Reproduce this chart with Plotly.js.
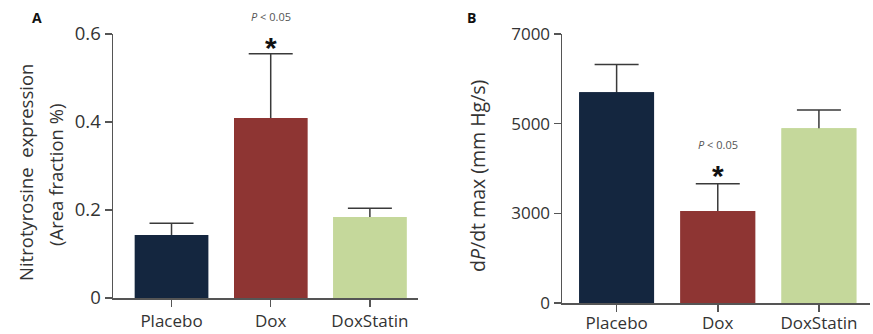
<!DOCTYPE html>
<html>
<head>
<meta charset="utf-8">
<script src="https://cdn.plot.ly/plotly-3.0.1.min.js"></script>
<style>html,body{margin:0;padding:0;background:#fff;}#chart{width:873px;height:334px;}</style>
</head>
<body>
<div id="chart"></div>
<script>
// ---- data ----
const categories = ["Placebo", "Dox", "DoxStatin"];
const colors = ["#14263f", "#8e3533", "#c5d89b"];

const nitroValues = [0.143, 0.409, 0.184];
const nitroErrors = [0.027, 0.146, 0.020];
const nitroTicks = [0, 0.2, 0.4, 0.6];
const nitroTickText = ["0", "0.2", "0.4", "0.6"];

const dpdtValues = [5700, 3050, 4895];
const dpdtErrors = [618, 610, 409];
// the reference axis is drawn with equal steps; bottom tick is labelled 0
const dpdtTicks = [1000, 3000, 5000, 7000];
const dpdtTickText = ["0", "3000", "5000", "7000"];

const FONT = "Open Sans, sans-serif";
const AX = "#555555";
const TXT = "#333333";

// error bars (symmetric; lower half hidden by the bars drawn over them)
function errTrace(vals, errs, xa, ya) {
  return {
    type: "bar", x: categories, y: vals, xaxis: xa, yaxis: ya,
    marker: {color: colors, line: {width: 0}}, width: 0.74,
    error_y: {type: "data", array: errs, symmetric: true,
      color: "#3a3a3a", thickness: 1.5, width: 22},
    hoverinfo: "skip", showlegend: false
  };
}
function barTrace(vals, xa, ya) {
  return {
    type: "bar", x: categories, y: vals, xaxis: xa, yaxis: ya,
    marker: {color: colors, line: {width: 0}}, width: 0.74,
    hoverinfo: "skip", showlegend: false
  };
}

const data = [
  errTrace(nitroValues, nitroErrors, "x", "y"),
  barTrace(nitroValues, "x", "y"),
  errTrace(dpdtValues, dpdtErrors, "x2", "y2"),
  barTrace(dpdtValues, "x2", "y2")
];

function xAxis(domain, range, anchor, standoff) {
  return {domain: domain, range: range, anchor: anchor, type: "category",
    showline: true, linecolor: AX, linewidth: 1.5, ticks: "outside", ticklen: 7,
    tickwidth: 1.5, tickcolor: AX, showgrid: false, zeroline: false,
    ticklabelstandoff: standoff,
    tickfont: {family: FONT, size: 17, color: TXT}, fixedrange: true};
}
function yAxis(domain, range, anchor, tv, tt, fs) {
  return {domain: domain, range: range, anchor: anchor, tickvals: tv, ticktext: tt,
    showline: true, linecolor: AX, linewidth: 1.5, ticks: "outside", ticklen: 7,
    tickwidth: 1.5, tickcolor: AX, showgrid: false, zeroline: false,
    tickfont: {family: FONT, size: fs, color: TXT}, fixedrange: true};
}

const H = 334, W = 873;
function note(x, y, text, font, extra) {
  return Object.assign({xref: "paper", yref: "paper", x: x / W, y: 1 - y / H, text: text,
    showarrow: false, xanchor: "center", yanchor: "middle", font: font}, extra || {});
}
const layout = {
  width: W, height: H,
  margin: {l: 0, r: 0, t: 0, b: 0},
  paper_bgcolor: "#fff", plot_bgcolor: "rgba(0,0,0,0)",
  barmode: "overlay",
  xaxis: xAxis([113 / W, 418 / W], [-0.59, 2.485], "y", 0),
  yaxis: yAxis([1 - 298 / H, 1 - 34 / H], [0, 0.6], "x", nitroTicks, nitroTickText, 18.5),
  xaxis2: xAxis([562 / W, 870 / W], [-0.54, 2.505], "y2", -3),
  yaxis2: yAxis([1 - 303 / H, 1 - 34 / H], [1000, 7000], "x2", dpdtTicks, dpdtTickText, 17),
  annotations: [
    note(37, 17, "<b>A</b>", {family: FONT, size: 14, color: "#111"}),
    note(472, 17, "<b>B</b>", {family: FONT, size: 14, color: "#111"}),
    note(25, 173, "Nitrotyrosine&nbsp;&nbsp;expression", {family: FONT, size: 18.5, color: TXT}, {textangle: -90}),
    note(55, 175, "(Area fraction %)", {family: FONT, size: 18.5, color: TXT}, {textangle: -90}),
    note(477, 176, "d<i>P</i>/dt max (mm Hg/s)", {family: FONT, size: 19.5, color: TXT}, {textangle: -90}),
    {xref: "x", yref: "y", x: categories[1], y: nitroValues[1] + nitroErrors[1], yshift: 37,
      text: "<i>P</i> < 0.05", showarrow: false, font: {family: FONT, size: 11, color: "#555"}},
    {xref: "x", yref: "y", x: categories[1], y: nitroValues[1] + nitroErrors[1], yshift: 6,
      text: "<b>*</b>", showarrow: false, font: {family: "Arial, sans-serif", size: 30, color: "#111"}},
    {xref: "x2", yref: "y2", x: categories[1], y: dpdtValues[1] + dpdtErrors[1], yshift: 39,
      text: "<i>P</i> < 0.05", showarrow: false, font: {family: FONT, size: 11, color: "#555"}},
    {xref: "x2", yref: "y2", x: categories[1], y: dpdtValues[1] + dpdtErrors[1], yshift: 8,
      text: "<b>*</b>", showarrow: false, font: {family: "Arial, sans-serif", size: 30, color: "#111"}}
  ]
};

Plotly.newPlot("chart", data, layout, {staticPlot: true, displayModeBar: false});
</script>
</body>
</html>
